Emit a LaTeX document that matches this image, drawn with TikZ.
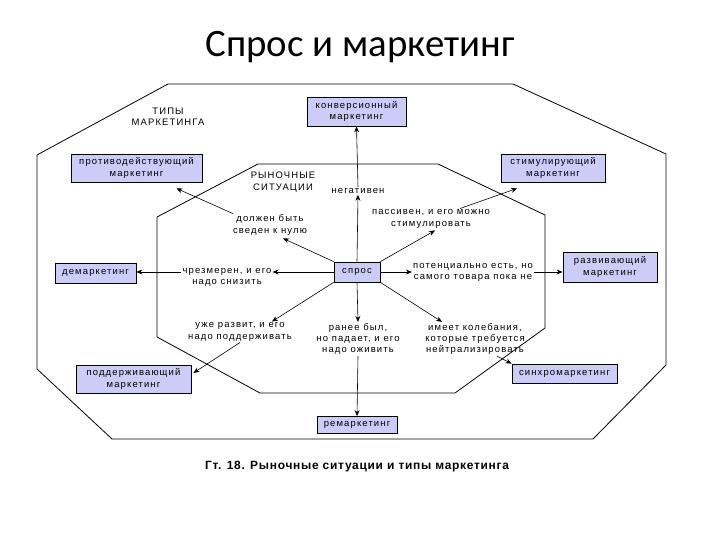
\documentclass[tikz,border=0pt]{standalone}
\usepackage{fontspec}
\setmainfont{Liberation Sans}
\newfontfamily\titlefont{Carlito}
\newfontfamily\dfont[LetterSpace=12]{Liberation Sans}
\newfontfamily\capfont[LetterSpace=6]{Liberation Sans}
\usetikzlibrary{arrows.meta}
\definecolor{boxfill}{RGB}{204,204,248}
\tikzset{
  box/.style={draw=black, fill=boxfill, line width=0.8pt, align=center, inner sep=1pt,
     font=\dfont\fontsize{9.5}{11.5}\selectfont},
  lbl/.style={align=center, inner sep=1pt, font=\dfont\fontsize{9.5}{11.5}\selectfont},
  arr/.style={draw=black, line width=0.6pt, -{Stealth[length=6pt,width=5pt]}},
  frame/.style={draw=black, line width=0.8pt},
}
\begin{document}
\begin{tikzpicture}[x=1bp,y=-1bp]
\useasboundingbox (0,0) rectangle (720,540);
% title
\node[font=\titlefont\fontsize{39}{44}\selectfont] (title) at (360,47) {Спрос и маркетинг};
% octagons
\draw[frame] (168,84) -- (513,84) -- (666,154) -- (666,365) -- (593,439) -- (112,439) -- (37,369) -- (37,155) -- cycle;
\draw[frame] (258,164) -- (438,164) -- (545,215) -- (545,328) -- (455,393) -- (260,393) -- (157,337) -- (157,217) -- cycle;
% boxes
\node[box, minimum width=99bp, minimum height=29bp] (conv) at (356.5,111.5) {конверсионный\\маркетинг};
\node[box, minimum width=131bp, minimum height=28bp] (protiv) at (136.5,168) {противодействующий\\маркетинг};
\node[box, minimum width=104bp, minimum height=28bp] (stim) at (553,168) {стимулирующий\\маркетинг};
\node[box, minimum width=81bp, minimum height=20bp] (demark) at (95.5,273) {демаркетинг};
\node[box, minimum width=46bp, minimum height=20bp] (spros) at (357,272) {спрос};
\node[box, minimum width=94bp, minimum height=30bp] (razv) at (610,267) {развивающий\\маркетинг};
\node[box, minimum width=115bp, minimum height=28bp] (podd) at (133.5,379) {поддерживающий\\маркетинг};
\node[box, minimum width=105bp, minimum height=19bp] (sinhro) at (564.5,373.5) {синхромаркетинг};
\node[box, minimum width=80bp, minimum height=17bp] (remark) at (357,425) {ремаркетинг};
% labels
\node[lbl] (tipy) at (168,117) {ТИПЫ\\МАРКЕТИНГА};
\node[lbl] (ryn) at (283,182) {РЫНОЧНЫЕ\\СИТУАЦИИ};
\node[lbl] (neg) at (358,191) {негативен};
\node[lbl] (dolzhen) at (270,225) {должен быть\\сведен к нулю};
\node[lbl] (passiv) at (431,219) {пассивен, и его можно\\стимулировать};
\node[lbl] (chrez) at (227,277.5) {чрезмерен, и его\\надо снизить};
\node[lbl] (potenc) at (473,272.5) {потенциально есть, но\\самого товара пока не};
\node[lbl] (uzhe) at (240,332) {уже развит, и его\\надо поддерживать};
\node[lbl] (ranee) at (358,339) {ранее был,\\но падает, и его\\надо оживить};
\node[lbl] (imeet) at (475,339) {имеет колебания,\\которые требуется\\нейтрализировать};
% caption
\node[font=\capfont\bfseries\fontsize{12}{14}\selectfont] (cap) at (357,467) {Гт. 18. Рыночные ситуации и типы маркетинга};
% connectors
\draw[arr] (spros.north) -- (neg.south);
\draw[arr] (neg.north) -- (conv.south);
\draw[arr] (spros.north west) -- ([xshift=13bp,yshift=-2bp]dolzhen.south);
\draw[arr] ([xshift=-37bp]dolzhen.north) -- ([xshift=40bp,yshift=-6bp]protiv.south);
\draw[arr] (spros.north east) -- ([xshift=4bp,yshift=-1bp]passiv.south);
\draw[arr] ([xshift=29bp]passiv.north) -- ([xshift=-36bp,yshift=-6bp]stim.south);
\draw[arr] (spros.west) -- (chrez.east |- spros.west);
\draw[arr] (chrez.west |- spros.west) -- (demark.east |- spros.west);
\draw[arr] (spros.east) -- (potenc.west |- spros.east);
\draw[arr] (potenc.east |- spros.east) -- (razv.west |- spros.east);
\draw[arr] (spros.south west) -- ([xshift=32bp]uzhe.north);
\draw[arr] (uzhe.south) -- ([xshift=2bp,yshift=6bp]podd.east);
\draw[arr] (spros.south) -- (ranee.north);
\draw[arr] (ranee.south) -- (remark.north);
\draw[arr] (spros.south east) -- ([xshift=-33bp]imeet.north);
\draw[arr] ([xshift=22bp]imeet.south) -- (sinhro.north west);
\end{tikzpicture}
\end{document}
